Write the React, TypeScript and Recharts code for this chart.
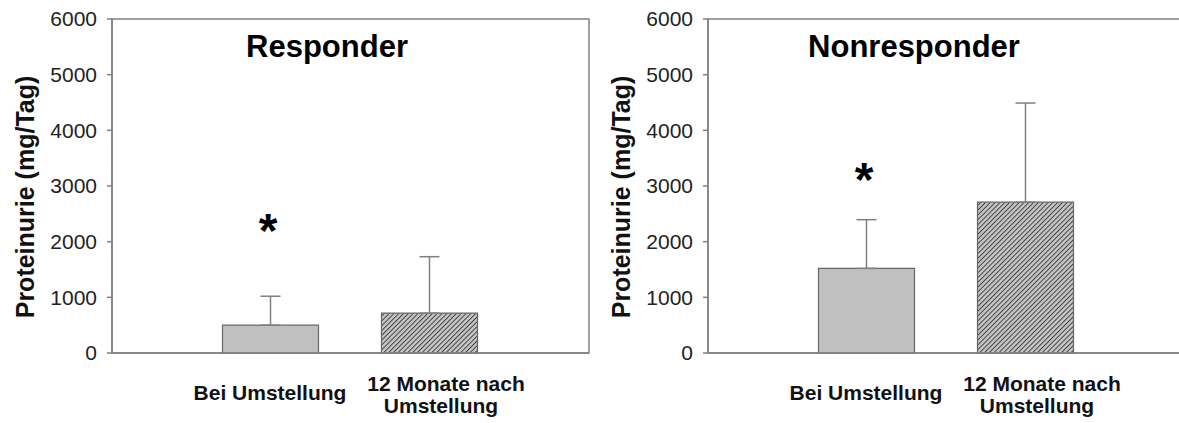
import React from "react";
import {
  ComposedChart,
  Bar,
  Cell,
  ErrorBar,
  Scatter,
  XAxis,
  YAxis,
  ReferenceArea,
} from "recharts";

const categories = ["Bei Umstellung", "12 Monate nach\nUmstellung"];
const categoryPos = [1, 2];
const responderMean = [500, 715];
const responderErr = [520, 1015];
const responderStar = [2380, null];
const nonresponderMean = [1520, 2710];
const nonresponderErr = [875, 1780];
const nonresponderStar = [3280, null];
const yTicks = [0, 1000, 2000, 3000, 4000, 5000, 6000];

const FONT = "'Liberation Sans', Arial, sans-serif";
const AXIS = "#808080";

function buildRows(mean: number[], err: number[], star: (number | null)[]) {
  return categories.map((name, i) => ({
    name,
    pos: categoryPos[i],
    value: mean[i],
    err: [0, err[i]],
    star: star[i],
  }));
}

function CategoryTick(props: any) {
  const { x, y, payload } = props;
  const label = categories[categoryPos.indexOf(payload.value)] ?? "";
  const lines = label.split("\n");
  const first = lines.length === 1 ? 39 : 30;
  const dx = lines.length === 1 ? -1 : 16;
  return (
    <g>
      {lines.map((line, i) => (
        <text
          key={i}
          x={x + dx - (i > 0 ? 5 : 0)}
          y={y + first + i * 22}
          textAnchor="middle"
          fontFamily={FONT}
          fontWeight="bold"
          fontSize={21}
          fill="#111"
        >
          {line}
        </text>
      ))}
    </g>
  );
}

function StarShape(props: any) {
  const { cx, cy, payload } = props;
  if (payload.star == null || cx == null || cy == null || isNaN(cy)) return <g />;
  return (
    <text
      x={cx - 3}
      y={cy + 26}
      textAnchor="middle"
      fontFamily={FONT}
      fontWeight="bold"
      fontSize={48}
      fill="#000"
    >
      *
    </text>
  );
}

function YLabel(props: any) {
  const { viewBox } = props;
  const cx = viewBox.x + viewBox.width - 87;
  const cy = viewBox.y + viewBox.height / 2 + 11;
  return (
    <text
      x={cx}
      y={cy}
      transform={`rotate(-90, ${cx}, ${cy})`}
      textAnchor="middle"
      dominantBaseline="central"
      fontFamily={FONT}
      fontWeight="bold"
      fontSize={25}
      fill="#111"
    >
      Proteinurie (mg/Tag)
    </text>
  );
}

function Panel({
  id,
  left,
  title,
  titleX,
  rows,
}: {
  id: string;
  left: number;
  title: string;
  titleX: number;
  rows: ReturnType<typeof buildRows>;
}) {
  return (
    <div style={{ position: "absolute", left, top: 0, width: 600, height: 423 }}>
      <ComposedChart
        width={600}
        height={423}
        data={rows}
        margin={{ top: 19, right: 11, bottom: 0, left: 0 }}
      >
        <defs>
          <pattern
            id={id}
            patternUnits="userSpaceOnUse"
            width={3.4}
            height={3.4}
            patternTransform="rotate(45)"
          >
            <rect width={3.4} height={3.4} fill="#c4c4c4" />
            <line x1={0} y1={0} x2={0} y2={3.4} stroke="#3a3a3a" strokeWidth={1.8} />
          </pattern>
        </defs>
        <ReferenceArea x1={0} x2={3} y1={0} y2={6000} fill="none" stroke={AXIS} strokeWidth={1.5} />
        <XAxis
          dataKey="pos"
          type="number"
          domain={[0, 3]}
          ticks={categoryPos}
          height={70}
          tickLine={false}
          axisLine={{ stroke: AXIS, strokeWidth: 1.5 }}
          tick={<CategoryTick />}
          interval={0}
        />
        <YAxis
          domain={[0, 6000]}
          ticks={yTicks}
          width={112}
          tickSize={5}
          tickMargin={10}
          tickLine={{ stroke: AXIS, strokeWidth: 1.5 }}
          axisLine={{ stroke: AXIS, strokeWidth: 1.5 }}
          tick={{ fill: "#222", fontSize: 21, fontFamily: FONT }}
          label={<YLabel />}
        />
        <Bar dataKey="value" barSize={96} stroke="#666" strokeWidth={1.2} isAnimationActive={false}>
          {rows.map((_, i) => (
            <Cell key={i} fill={i === 0 ? "#c0c0c0" : `url(#${id})`} />
          ))}
          <ErrorBar dataKey="err" width={10} stroke={AXIS} strokeWidth={1.5} direction="y" />
        </Bar>
        <Scatter dataKey="star" shape={<StarShape />} isAnimationActive={false} />
      </ComposedChart>
      <div
        style={{
          position: "absolute",
          left: titleX - 150,
          width: 300,
          top: 29,
          textAlign: "center",
          fontFamily: FONT,
          fontWeight: "bold",
          fontSize: 31,
          color: "#000",
          lineHeight: "normal",
        }}
      >
        {title}
      </div>
    </div>
  );
}

export default function App() {
  return (
    <div
      style={{
        position: "fixed",
        left: 0,
        top: 0,
        width: 1179,
        height: 423,
        overflow: "hidden",
        background: "#fff",
      }}
    >
      <Panel
        id="hatchR"
        left={0}
        title="Responder"
        titleX={327}
        rows={buildRows(responderMean, responderErr, responderStar)}
      />
      <Panel
        id="hatchN"
        left={596}
        title="Nonresponder"
        titleX={318}
        rows={buildRows(nonresponderMean, nonresponderErr, nonresponderStar)}
      />
    </div>
  );
}
